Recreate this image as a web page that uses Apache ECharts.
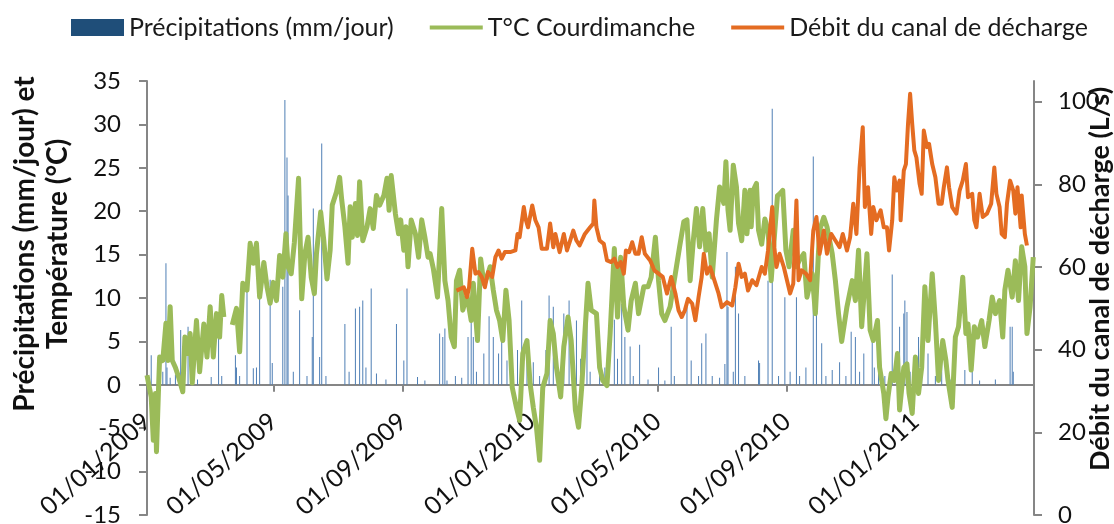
<!DOCTYPE html>
<html><head><meta charset="utf-8">
<script src="https://cdn.jsdelivr.net/npm/echarts@6/dist/echarts.min.js"></script>
<style>html,body{margin:0;padding:0;background:#fff}#c{width:1114px;height:524px}</style>
</head><body><div id="c"></div>
<script>
// Day offsets counted from 01/01/2009
const tempDay = [0,4,6,8,9,11,12,15,18,20,22,24,27,30,34,36,39,41,43,47,50,54,57,60,63,66,69,71,73,77,81,85,88,91,95,98,101,104,107,111,114,117,120,123,126,129,132,134,137,140,144,147,150,153,156,159,161,165,168,171,174,176,180,183,185,188,191,193,195,198,200,202,205,209,212,215,218,221,225,228,230,232,236,239,241,244,246,248,251,255,258,261,264,267,269,272,276,280,283,286,289,292,294,297,300,304,308,310,314,317,320,323,326,329,332,335,338,341,344,347,351,354,357,361,364,367,370,373,376,380,383,386,389,393,396,400,403,407,410,413,416,419,422,427,430,433,437,440,444,447,450,453,457,460,464,467,472,476,479,483,486,489,492,497,500,503,506,510,513,516,519,522,525,528,531,534,537,541,544,548,550,552,554,557,560,562,565,568,570,573,574,576,579,581,584,587,590,593,596,599,601,604,607,610,614,617,620,624,627,632,635,639,643,646,651,654,657,660,665,670,673,676,679,684,687,690,694,696,700,702,704,707,710,713,715,719,722,724,727,730,733,736,739,742,746,749,752,756,759,761,765,768,771,775,778,780,783,786,789,793,796,800,803,806,810,813,815,818,822,825,828,831,834,836,839,842];
const tempVal = [1.1,-1.4,-6.4,-1.0,-7.7,-0.3,3.2,2.8,7.1,2.8,9.0,2.8,2.0,0.9,-0.8,5.5,3.6,5.9,0.2,7.4,1.5,7.0,3.2,9.0,3.2,8.2,5.5,10.3,7.8,null,6.9,8.8,3.8,11.7,10.9,16.3,14.0,16.3,10.1,14.1,11.3,9.4,11.8,9.7,14.9,12.4,17.4,13.6,12.8,16.4,23.8,9.9,15.1,17.0,12.4,10.5,15.1,19.9,16.6,12.2,15.5,20.7,22.2,23.9,21.3,18.2,14.0,20.5,17.0,20.9,17.2,23.4,16.6,18.2,20.3,18.0,21.8,20.7,21.8,23.8,20.1,24.1,19.7,17.4,19.0,15.5,18.2,13.6,19.0,17.4,14.7,19.0,17.0,14.7,15.1,13.4,10.1,20.3,12.0,9.7,5.5,4.4,12.0,13.2,8.6,10.3,7.4,11.7,5.1,14.5,11.7,12.4,13.6,10.9,8.6,7.4,5.1,10.9,7.4,-0.3,-2.6,-4.1,3.6,5.1,0.1,-2.6,-4.9,-8.7,-0.3,1.3,7.4,5.9,2.0,-1.4,4.4,7.8,5.1,-2.9,-4.9,-0.3,5.9,11.7,8.6,8.2,2.0,0.5,-0.1,5.9,15.7,7.8,14.7,9.0,6.3,9.7,11.7,8.2,11.3,11.3,12.4,17.0,12.0,8.2,7.4,9.0,11.3,13.6,15.9,18.8,19.0,12.0,16.6,20.3,15.9,20.3,15.5,17.4,12.4,19.0,22.8,20.9,25.7,20.1,17.8,25.3,22.8,18.6,16.6,22.4,17.4,22.4,18.2,22.4,23.2,17.8,16.2,19.1,17.8,12.0,17.0,21.8,22.0,22.4,15.5,13.6,17.8,13.6,14.4,15.1,10.1,12.8,8.2,17.8,19.3,18.2,15.1,12.0,8.2,5.0,9.0,12.0,9.7,15.5,6.7,15.1,6.3,5.1,7.4,2.0,-1.0,-3.9,-1.4,1.3,0.5,3.6,-2.9,2.0,2.4,-1.0,-3.3,3.2,-1.0,2.0,11.3,5.1,12.8,7.4,0.5,5.1,2.8,0.5,-2.6,5.5,6.7,12.4,5.9,7.0,1.7,6.7,5.5,7.4,4.4,7.4,10.1,8.2,9.7,5.5,10.9,13.2,10.1,14.3,9.7,15.9,13.6,5.9,9.0,14.7];

const flowDay = [294,301,304,306,309,312,315,318,321,324,328,331,334,337,340,345,350,352,354,358,360,362,366,369,372,375,380,383,386,388,392,396,399,402,405,408,411,416,421,424,425,427,430,434,437,441,444,447,450,453,455,458,461,464,467,470,473,478,482,486,490,494,498,502,505,508,511,514,518,521,524,527,529,532,535,538,543,546,551,556,559,562,565,568,571,575,579,584,587,590,594,596,598,601,605,608,611,614,617,619,622,626,630,633,636,639,643,646,650,654,658,661,665,668,671,674,677,680,682,685,688,690,693,697,700,703,705,708,710,712,715,716,719,721,723,725,727,729,731,734,736,738,741,743,746,749,752,755,757,760,762,765,769,772,775,778,780,784,786,788,791,794,798,802,805,807,810,812,815,817,820,823,825,827,830,831,834,836];
const flowVal = [54.3,55.1,52.7,55.1,64.4,58.4,58.8,57.6,55.1,58.8,57.6,62.4,64.0,62.0,63.6,63.6,64.0,68.0,67.2,74.5,71.3,69.6,74.9,71.3,69.6,64.4,64.4,70.5,64.8,68.0,63.6,68.0,64.0,66.4,68.8,66.4,65.2,68.0,69.6,70.5,76.1,69.6,66.4,65.6,61.6,61.2,62.0,60.0,61.2,58.4,64.0,63.6,66.0,63.2,63.2,67.2,63.2,61.6,59.2,58.4,57.6,53.6,57.6,53.6,49.5,47.9,49.5,52.3,51.1,47.1,52.7,57.6,63.2,58.4,60.0,57.6,53.6,50.3,51.5,50.7,55.1,60.8,57.6,58.4,54.3,56.8,55.6,60.0,58.4,64.0,74.5,64.8,60.0,63.2,60.0,56.8,53.6,56.0,76.1,56.8,59.2,58.4,56.8,68.8,72.1,63.2,68.8,63.2,68.0,66.4,64.8,68.0,64.0,67.2,75.3,68.0,84.1,93.8,74.5,79.3,68.0,74.5,71.3,73.7,69.6,69.6,64.0,71.3,81.7,78.5,80.9,71.3,83.3,84.9,94.6,101.9,94.6,88.2,86.5,80.1,77.7,93.0,89.0,89.8,84.9,81.7,75.3,75.3,79.3,84.1,79.3,74.5,72.9,78.5,80.9,84.9,76.9,77.7,71.3,69.6,77.7,72.1,72.9,75.3,84.1,77.7,74.5,68.0,67.2,75.3,80.9,78.5,72.9,79.3,69.6,77.3,68.0,65.2];

const precipDay = [4,12,15,18,19,22,27,32,35,39,42,48,61,68,71,84,85,88,95,101,104,107,117,119,129,131,133,134,139,145,152,157,158,164,166,170,188,192,198,202,205,208,213,218,227,237,244,247,257,264,278,281,283,285,293,299,305,308,310,313,320,325,329,334,337,342,347,352,356,361,367,373,379,382,386,390,396,401,405,408,412,418,421,430,435,444,447,451,454,459,462,468,476,486,492,498,501,513,517,524,527,531,537,544,549,551,552,557,559,562,568,581,582,590,594,600,606,611,617,620,626,633,636,641,645,651,658,664,669,673,677,681,689,691,695,701,708,712,715,719,720,722,725,733,736,742,749,755,763,777,784,791,806,820,822,823];
const precipVal = [3.4,1.0,1.5,14.0,2.0,0.8,1.2,6.3,1.0,6.7,1.5,0.6,0.9,5.5,1.0,3.4,2.0,1.0,10.7,1.9,2.0,12.4,12.1,2.5,11.3,32.8,26.2,21.8,1.5,8.6,1.0,5.5,20.3,3.2,27.8,1.0,7.0,1.5,8.8,9.0,9.7,2.0,11.1,1.3,0.6,7.0,2.8,11.1,0.9,0.5,5.9,5.5,6.5,0.5,1.0,0.8,5.5,9.0,5.5,1.5,3.6,7.9,5.5,3.6,5.5,2.8,3.2,4.0,9.7,3.6,2.6,1.0,4.0,10.3,9.0,2.0,8.2,9.7,2.5,7.4,3.0,8.2,1.5,1.0,2.0,7.5,3.0,9.3,5.5,4.4,1.0,4.6,0.6,2.0,0.5,6.7,1.0,9.8,2.8,1.0,4.8,5.9,1.0,0.8,2.4,15.3,9.0,1.5,13.6,8.2,1.0,2.8,2.5,12.0,31.8,1.0,10.1,1.5,10.1,1.0,2.0,26.3,8.2,4.8,1.0,1.7,2.6,1.0,6.1,5.5,1.5,3.6,5.9,2.0,7.0,1.0,12.7,2.0,6.7,8.2,9.7,8.4,1.5,5.5,1.0,3.6,1.0,4.0,0.6,1.7,2.0,0.5,0.6,6.7,6.7,1.5];

const xTickLabels = ['01/01/2009','01/05/2009','01/09/2009','01/01/2010','01/05/2010','01/09/2010','01/01/2011'];
const rightTicks = [0,20,40,60,80,100];
const axisEndDay = 842.7;

const names = ['Précipitations (mm/jour)','T°C Courdimanche','Débit du canal de décharge'];

const T0 = new Date(2009,0,1).getTime();
function dayTs(d){ return T0 + d*86400000; }
function parseLbl(s){ const p=s.split('/'); return new Date(+p[2], +p[1]-1, +p[0]).getTime(); }
function fmt(v){ const d=new Date(v); const pad=n=>(n<10?'0':'')+n; return pad(d.getDate())+'/'+pad(d.getMonth()+1)+'/'+d.getFullYear(); }
const xTicks = xTickLabels.map(parseLbl);

const FONT='Lato';
const AX='#868686';
const LINE_ICON='path://M0,0h53v4h-53z';
const GRID_TOP=81, GRID_H=434, Y_MIN=-15, Y_MAX=35;
const zeroOffset = GRID_H * (0 - Y_MIN) / (Y_MAX - Y_MIN); // distance from grid bottom to the 0 line

const chart = echarts.init(document.getElementById('c'), null, {renderer:'canvas'});
chart.setOption({
  animation:false,
  backgroundColor:'#fff',
  grid:{left:147, right:80, top:GRID_TOP, height:GRID_H, outerBoundsMode:'none', containLabel:false},
  legend:{
    top:15, left:71, padding:0, itemGap:36, itemWidth:53, itemHeight:17,
    textStyle:{fontFamily:FONT, fontSize:25, color:'#1a1a1a'},
    data:[
      {name:names[0], icon:'rect', itemStyle:{color:'#1f4e79', opacity:1}},
      {name:names[1], icon:LINE_ICON, itemStyle:{color:'#9bbb59'}},
      {name:names[2], icon:LINE_ICON, itemStyle:{color:'#e46c22'}}
    ]
  },
  xAxis:{
    type:'value', min:dayTs(0), max:dayTs(axisEndDay), position:'bottom', offset:-zeroOffset,
    axisLine:{onZero:false, lineStyle:{color:AX, width:2}},
    axisTick:{show:true, customValues:xTicks, length:7, lineStyle:{color:AX, width:2}},
    axisLabel:{customValues:xTicks, rotate:42, margin:33, formatter:fmt, fontFamily:FONT, fontSize:25, color:'#111', hideOverlap:false},
    splitLine:{show:false}
  },
  yAxis:[
    {type:'value', min:Y_MIN, max:Y_MAX, interval:5,
     axisLine:{show:true, lineStyle:{color:AX, width:2}},
     axisTick:{show:true, length:8, lineStyle:{color:AX, width:2}},
     axisLabel:{margin:26, fontFamily:FONT, fontSize:24, color:'#111'},
     splitLine:{show:false}},
    {type:'value', min:0, max:105,
     axisLine:{show:true, lineStyle:{color:AX, width:2}},
     axisTick:{show:true, customValues:rightTicks, length:8, lineStyle:{color:AX, width:2}},
     axisLabel:{customValues:rightTicks, margin:24, fontFamily:FONT, fontSize:24, color:'#111'},
     splitLine:{show:false}}
  ],
  graphic:[
    {type:'text', x:41, y:244, rotation:Math.PI/2,
     style:{text:'Précipitations (mm/jour) et\nTempérature (°C)', font:'bold 28px Lato', lineHeight:33, align:'center', verticalAlign:'middle', fill:'#111'}},
    {type:'text', x:1100, y:279, rotation:Math.PI/2,
     style:{text:'Débit du canal de décharge (L/s)', font:'bold 27px Lato', align:'center', verticalAlign:'middle', fill:'#111'}}
  ],
  series:[
    {name:names[0], type:'bar', yAxisIndex:0, barWidth:1,
     itemStyle:{color:'#4f7fb5'},
     data:precipDay.map((d,i)=>[dayTs(d), precipVal[i]])},
    {name:names[1], type:'line', yAxisIndex:0, symbol:'none', connectNulls:false,
     lineStyle:{color:'#9bbb59', width:5, join:'round'}, itemStyle:{color:'#9bbb59'},
     data:tempDay.map((d,i)=>[dayTs(d), tempVal[i]])},
    {name:names[2], type:'line', yAxisIndex:1, symbol:'none',
     lineStyle:{color:'#e46c22', width:4, join:'round'}, itemStyle:{color:'#e46c22'},
     data:flowDay.map((d,i)=>[dayTs(d), flowVal[i]])}
  ]
});
</script>
</body></html>
